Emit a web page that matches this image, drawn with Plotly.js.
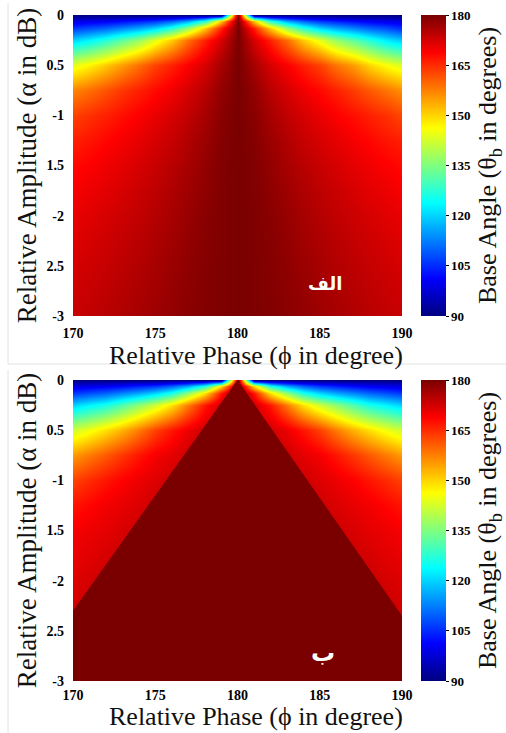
<!DOCTYPE html>
<html>
<head>
<meta charset="utf-8">
<script src="https://cdn.plot.ly/plotly-3.0.1.min.js"></script>
<style>html,body{margin:0;padding:0;background:#fff;}#chart{width:506px;height:733px;}</style>
</head>
<body>
<div id="chart"></div>
<script>
// Relative phase (degrees) – heatmap columns
const phaseDeg = [170, 171, 172, 173, 174, 175, 176, 177, 178, 179, 180,
                  181, 182, 183, 184, 185, 186, 187, 188, 189, 190];
// Relative amplitude (dB) – heatmap rows
const amplitudeDb = [0, -0.0625, -0.125, -0.25, -0.5, -0.75, -1, -1.25, -1.5, -1.75, -2, -2.25, -2.5, -2.75, -3];

// Panel "الف": base angle (degrees)
const baseAngleA = [
  [90, 90, 90, 90, 90, 90, 90, 90, 90, 90, 180, 90, 90, 90, 90, 90, 90, 90, 90, 90, 90],
  [98.5, 99.5, 100.5, 102, 104, 106, 110, 116, 127, 151, 180, 151, 127, 116, 110, 106, 104, 102, 100.5, 99.5, 98.5],
  [106, 108, 110, 113, 116, 120, 127, 137, 151, 166, 180, 166, 151, 137, 127, 120, 116, 113, 110, 108, 105],
  [120, 123, 127, 132, 137, 144, 151, 159, 166, 172.2, 180, 172.2, 166, 159, 151, 144, 137, 132, 127, 122, 119],
  [144, 147, 151, 155, 159, 163, 166, 169, 172.2, 176.2, 180, 176.2, 172.2, 169, 166, 163, 158.5, 155, 150, 146, 143],
  [157, 159, 161.5, 164, 166, 168, 170, 172.2, 174.7, 177.9, 180, 177.9, 174.7, 172.2, 170, 168, 166, 163.5, 161, 158.5, 156],
  [163, 164.5, 166, 167.5, 169, 170.5, 172.2, 174, 176.2, 178.6, 180, 178.6, 176.2, 174, 172.2, 170.5, 169, 167.5, 166, 164.5, 162.5],
  [166, 167, 168.3, 169.6, 170.8, 172.2, 173.6, 175.3, 177.2, 179.1, 180, 179.1, 177.2, 175.3, 173.6, 172.2, 170.8, 169.6, 168.3, 167, 166],
  [168, 169, 170, 171, 172.2, 173.4, 174.7, 176.2, 177.9, 179.3, 180, 179.3, 177.9, 176.2, 174.7, 173.4, 172.2, 171, 170, 169, 168],
  [169.4, 170.3, 171.2, 172.2, 173.2, 174.3, 175.6, 176.9, 178.3, 179.4, 180, 179.4, 178.3, 176.9, 175.6, 174.3, 173.2, 172.2, 171.2, 170.3, 169.4],
  [170.5, 171.3, 172.2, 173.1, 174, 175.1, 176.2, 177.5, 178.6, 179.5, 180, 179.5, 178.6, 177.5, 176.2, 175.1, 174, 173.1, 172.2, 171.3, 170.5],
  [171.4, 172.2, 173, 173.8, 174.7, 175.7, 176.7, 177.9, 178.9, 179.5, 180, 179.5, 178.9, 177.9, 176.7, 175.7, 174.7, 173.8, 173, 172.2, 171.4],
  [172.2, 172.9, 173.6, 174.4, 175.3, 176.2, 177.2, 178.2, 179.1, 179.6, 180, 179.6, 179.1, 178.2, 177.2, 176.2, 175.3, 174.4, 173.6, 172.9, 172.2],
  [172.8, 173.5, 174.2, 175, 175.8, 176.6, 177.6, 178.4, 179.2, 179.6, 180, 179.6, 179.2, 178.4, 177.6, 176.6, 175.8, 175, 174.2, 173.5, 172.8],
  [173.4, 174, 174.7, 175.5, 176.2, 177, 177.9, 178.6, 179.3, 179.6, 180, 179.6, 179.3, 178.6, 177.9, 177, 176.2, 175.5, 174.7, 174, 173.4]
];

// Panel "ب": base angle (degrees) outside the saturated (180°) region
const baseAngleB = [
  [90, 90, 90, 90, 90, 90, 90, 90, 90, 90, 180, 90, 90, 90, 90, 90, 90, 90, 90, 90, 90],
  [98.5, 99.5, 100.5, 102, 104, 106, 110, 116, 126, 149, 180, 149, 126, 116, 110, 106, 104, 102, 100.5, 99.5, 98.5],
  [106, 108, 110, 113, 116, 120, 126, 136.5, 149, 167, 180, 167, 149, 136.5, 126, 120, 116, 113, 110, 108, 106],
  [120, 123, 126, 131, 136.5, 142, 149, 158, 167, 173, 180, 173, 167, 158, 149, 142, 136.5, 131, 126, 123, 120],
  [142, 145, 149, 153, 158, 163, 167, 170.3, 173, 173, 180, 173, 173, 170.3, 167, 163, 158, 153, 149, 145, 142],
  [155, 158, 161, 164, 167, 169.5, 171, 173, 173, 173, 180, 173, 173, 173, 171, 169.5, 167, 164, 161, 158, 155],
  [163, 165, 167, 168.8, 170.3, 171.5, 173, 173, 173, 173, 180, 173, 173, 173, 173, 171.5, 170.3, 168.8, 167, 165, 163],
  [167, 168.4, 169.8, 170.7, 171.8, 173, 173, 173, 173, 173, 180, 173, 173, 173, 173, 173, 171.8, 170.7, 169.8, 168.4, 167],
  [169.5, 170.3, 171, 172, 173, 173, 173, 173, 173, 173, 180, 173, 173, 173, 173, 173, 173, 172, 171, 170.3, 169.5],
  [170.5, 171.2, 172.3, 173, 173, 173, 173, 173, 173, 173, 180, 173, 173, 173, 173, 173, 173, 173, 172.3, 171.2, 170.5],
  [171.5, 172.4, 173, 173, 173, 173, 173, 173, 173, 173, 180, 173, 173, 173, 173, 173, 173, 173, 173, 172.4, 171.5],
  [172.5, 173, 173, 173, 173, 173, 173, 173, 173, 173, 180, 173, 173, 173, 173, 173, 173, 173, 173, 173, 172.5],
  [173, 173, 173, 173, 173, 173, 173, 173, 173, 173, 180, 173, 173, 173, 173, 173, 173, 173, 173, 173, 173],
  [173, 173, 173, 173, 173, 173, 173, 173, 173, 173, 180, 173, 173, 173, 173, 173, 173, 173, 173, 173, 173],
  [173, 173, 173, 173, 173, 173, 173, 173, 173, 173, 180, 173, 173, 173, 173, 173, 173, 173, 173, 173, 173]
];
// Panel "ب": boundary of the saturated region where the base angle is 180°
const saturationPhase = [180, 170, 170, 190, 190, 180];
const saturationAmp = [0, -2.3, -3, -3, -2.35, 0];
const saturationValue = 180;

const xTickVals = [170, 175, 180, 185, 190];
const yTickVals = [0, -0.5, -1, -1.5, -2, -2.5, -3];
const yTickText = ["0", "0.5", "-1", "1.5", "-2", "2.5", "-3"];
const cbTickVals = [90, 105, 120, 135, 150, 165, 180];
const panelLabels = ["الف", "ب"];

const jetStops = [
  [0, [0, 0, 128]], [0.125, [0, 0, 255]], [0.375, [0, 255, 255]],
  [0.625, [255, 255, 0]], [0.875, [255, 0, 0]], [1, [122, 0, 0]]
];
const jet = jetStops.map(s => [s[0], 'rgb(' + s[1].join(',') + ')']);
const zMin = 90, zMax = 180;
function jetColor(v) {
  const t = (v - zMin) / (zMax - zMin);
  for (let i = 1; i < jetStops.length; i++) {
    if (t <= jetStops[i][0]) {
      const a = jetStops[i - 1], b = jetStops[i];
      const f = (t - a[0]) / (b[0] - a[0]);
      return 'rgb(' + a[1].map((c, k) => Math.round(c + f * (b[1][k] - c))).join(',') + ')';
    }
  }
  return 'rgb(' + jetStops[jetStops.length - 1][1].join(',') + ')';
}

const W = 506, H = 733;
const serif = 'Liberation Serif, Times New Roman, serif';
const px = v => v / W;
const py = v => 1 - v / H;

function colorbar(top, bottom) {
  return {
    x: px(421), xanchor: 'left', xpad: 0, ypad: 0,
    y: (py(top) + py(bottom)) / 2, yanchor: 'middle',
    len: (bottom - top) / H, lenmode: 'fraction',
    thickness: 25, thicknessmode: 'pixels',
    outlinewidth: 0,
    tickmode: 'array', tickvals: cbTickVals,
    ticks: 'outside', ticklen: 3, tickcolor: '#000',
    tickfont: {family: serif, size: 13, color: '#000', weight: 'bold'},
    title: {text: 'Base Angle (θ<sub>b</sub> in degrees)', side: 'right',
            font: {family: serif, size: 26, color: '#111'}}
  };
}

const traces = [
  {type: 'heatmap', x: phaseDeg, y: amplitudeDb, z: baseAngleA, zsmooth: 'best',
   colorscale: jet, zmin: zMin, zmax: zMax, xaxis: 'x', yaxis: 'y',
   colorbar: colorbar(15, 316), hoverinfo: 'skip'},
  {type: 'heatmap', x: phaseDeg, y: amplitudeDb, z: baseAngleB, zsmooth: 'best',
   colorscale: jet, zmin: zMin, zmax: zMax, xaxis: 'x2', yaxis: 'y2',
   colorbar: colorbar(380, 681), hoverinfo: 'skip'},
  {type: 'scatter', x: saturationPhase, y: saturationAmp, xaxis: 'x2', yaxis: 'y2',
   mode: 'lines', fill: 'toself', fillcolor: jetColor(saturationValue),
   line: {width: 0, color: jetColor(saturationValue)}, hoverinfo: 'skip', showlegend: false}
];

function xax(anchor, standoff) {
  return {
    domain: [px(73), px(402)], anchor: anchor, range: [170, 190],
    tickmode: 'array', tickvals: xTickVals, ticks: '', showgrid: false,
    zeroline: false, showline: false, ticklabelstandoff: standoff,
    tickfont: {family: serif, size: 14, color: '#000', weight: 'bold'}
  };
}
function yax(anchor, top, bottom) {
  return {
    domain: [py(bottom), py(top)], anchor: anchor, range: [-3, 0],
    tickmode: 'array', tickvals: yTickVals, ticktext: yTickText, ticks: '',
    showgrid: false, zeroline: false, showline: false, ticklabelstandoff: 8,
    tickfont: {family: serif, size: 14, color: '#000', weight: 'bold'},
    title: {text: 'Relative Amplitude (α in dB)', standoff: 2,
            font: {family: serif, size: 27, color: '#111'}}
  };
}

const xTitle = 'Relative Phase (ϕ in degree)';
const layout = {
  width: W, height: H,
  margin: {l: 0, r: 0, t: 0, b: 0},
  paper_bgcolor: '#fff', plot_bgcolor: '#fff',
  showlegend: false,
  xaxis: xax('y', 7), yaxis: yax('x', 15, 316),
  xaxis2: xax('y2', 4), yaxis2: yax('x2', 380, 681),
  annotations: [
    {xref: 'paper', yref: 'paper', x: px(256), y: py(356), xanchor: 'center', yanchor: 'middle',
     text: xTitle, showarrow: false, font: {family: serif, size: 26, color: '#111'}},
    {xref: 'paper', yref: 'paper', x: px(256), y: py(733), xanchor: 'center', yanchor: 'bottom',
     text: xTitle, showarrow: false, font: {family: serif, size: 26, color: '#111'}},
    {xref: 'x', yref: 'y', x: 185.3, y: -2.68, text: panelLabels[0], showarrow: false,
     font: {family: 'DejaVu Sans', size: 18, color: '#fff', weight: 'bold'}},
    {xref: 'x2', yref: 'y2', x: 185.2, y: -2.72, text: panelLabels[1], showarrow: false,
     font: {family: 'DejaVu Sans', size: 24, color: '#fff', weight: 'bold'}}
  ],
  shapes: [
    {type: 'line', xref: 'paper', yref: 'paper', x0: px(8), x1: px(8), y0: py(3), y1: py(364),
     line: {color: '#e2e2e2', width: 1}},
    {type: 'line', xref: 'paper', yref: 'paper', x0: px(8), x1: px(506), y0: py(364), y1: py(364),
     line: {color: '#e2e2e2', width: 1}},
    {type: 'line', xref: 'paper', yref: 'paper', x0: px(8), x1: px(8), y0: py(370), y1: py(733),
     line: {color: '#e2e2e2', width: 1}}
  ]
};

Plotly.newPlot('chart', traces, layout, {displayModeBar: false, staticPlot: true});
</script>
</body>
</html>
